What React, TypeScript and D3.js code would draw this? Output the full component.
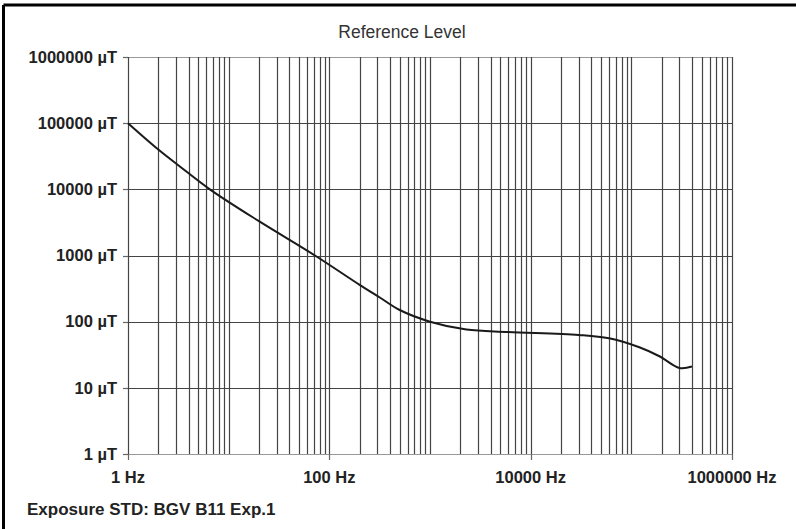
import React, { useEffect, useRef } from 'react';
import * as d3 from 'd3';

// frequency (Hz) and field (µT)
const freqs = [1, 2, 3.3, 6.5, 20, 72, 200, 320, 500, 1000, 2300, 6000, 30000, 60000, 120000, 190000, 300000, 400000];
const fields = [100000, 40000, 22000, 10000, 3300, 1000, 360, 230, 150, 100, 76, 70, 63, 56, 41, 30, 20, 21];

const xTickValues = [1, 100, 10000, 1000000];
const xTickLabels = ['1 Hz', '100 Hz', '10000 Hz', '1000000 Hz'];
const yTickValues = [1, 10, 100, 1000, 10000, 100000, 1000000];
const yTickLabels = ['1 µT', '10 µT', '100 µT', '1000 µT', '10000 µT', '100000 µT', '1000000 µT'];

const title = 'Reference Level';
const footer = 'Exposure STD: BGV B11 Exp.1';

const FONT = '"Liberation Sans", Arial, sans-serif';

const ReferenceChart: React.FC = () => {
  const ref = useRef<SVGSVGElement>(null);

  useEffect(() => {
    drawChart();
  }, []);

  const drawChart = () => {
    const width = 796;
    const height = 529;
    const margin = { top: 57, right: 64, bottom: 75, left: 128 };

    d3.select(ref.current).selectAll('*').remove();

    const svg = d3.select(ref.current)
      .attr('width', width)
      .attr('height', height);

    svg.append('rect').attr('width', width).attr('height', height).attr('fill', '#fff');

    // frame (only top and left edges show in the picture)
    svg.append('line').attr('x1', 3.5).attr('x2', width).attr('y1', 5).attr('y2', 5)
      .attr('stroke', '#000').attr('stroke-width', 3);
    svg.append('line').attr('x1', 3.5).attr('x2', 3.5).attr('y1', 5).attr('y2', height)
      .attr('stroke', '#000').attr('stroke-width', 3);

    const x = d3.scaleLog().domain([1, 1000000]).range([margin.left, width - margin.right]);
    const y = d3.scaleLog().domain([1, 1000000]).range([height - margin.bottom, margin.top]);

    // vertical grid: every 1..9 in each decade
    const xGrid: number[] = [];
    for (let e = 0; e < 6; e++) {
      for (let m = 1; m < 10; m++) xGrid.push(m * Math.pow(10, e));
    }
    xGrid.push(1000000);

    const g = svg.append('g');

    g.selectAll('.hgrid')
      .data(yTickValues)
      .enter().append('line')
      .attr('class', 'hgrid')
      .attr('x1', x(1)).attr('x2', x(1000000))
      .attr('y1', d => Math.round(y(d)) + 0.5).attr('y2', d => Math.round(y(d)) + 0.5)
      .attr('stroke', d => (d === 1000000 || d === 1 ? '#999' : '#444'))
      .attr('stroke-width', 1.2);

    g.selectAll('.vgrid')
      .data(xGrid)
      .enter().append('line')
      .attr('class', 'vgrid')
      .attr('x1', d => Math.round(x(d)) + 0.5).attr('x2', d => Math.round(x(d)) + 0.5)
      .attr('y1', y(1000000)).attr('y2', y(1))
      .attr('stroke', '#444')
      .attr('stroke-width', 1.2);

    // tick marks
    g.selectAll('.xtick')
      .data(xTickValues)
      .enter().append('line')
      .attr('x1', d => Math.round(x(d)) + 0.5).attr('x2', d => Math.round(x(d)) + 0.5)
      .attr('y1', y(1)).attr('y2', y(1) + 6)
      .attr('stroke', '#666').attr('stroke-width', 1.2);

    g.selectAll('.ytick')
      .data(yTickValues)
      .enter().append('line')
      .attr('x1', x(1) - 5).attr('x2', x(1))
      .attr('y1', d => Math.round(y(d)) + 0.5).attr('y2', d => Math.round(y(d)) + 0.5)
      .attr('stroke', '#666').attr('stroke-width', 1.2);

    // tick labels
    g.selectAll('.xlabel')
      .data(xTickValues)
      .enter().append('text')
      .attr('x', d => x(d))
      .attr('y', 483)
      .attr('text-anchor', 'middle')
      .style('font-family', FONT)
      .style('font-weight', 'bold')
      .style('font-size', '16.5px')
      .attr('fill', '#222')
      .text((d, i) => xTickLabels[i]);

    g.selectAll('.ylabel')
      .data(yTickValues)
      .enter().append('text')
      .attr('x', 117)
      .attr('y', d => y(d))
      .attr('dy', '0.35em')
      .attr('text-anchor', 'end')
      .style('font-family', FONT)
      .style('font-weight', 'bold')
      .style('font-size', '16.5px')
      .attr('fill', '#222')
      .text((d, i) => yTickLabels[i]);

    // curve
    const line = d3.line<number>()
      .x((d, i) => x(freqs[i]))
      .y(d => y(d))
      .curve(d3.curveCatmullRom.alpha(0.5));

    svg.append('path')
      .attr('d', line(fields) as string)
      .attr('fill', 'none')
      .attr('stroke', '#1a1a1a')
      .attr('stroke-width', 2);

    svg.append('text')
      .attr('x', 402)
      .attr('y', 38)
      .attr('text-anchor', 'middle')
      .style('font-family', FONT)
      .style('font-size', '17.5px')
      .attr('fill', '#333')
      .text(title);

    svg.append('text')
      .attr('x', 27)
      .attr('y', 515)
      .style('font-family', FONT)
      .style('font-weight', 'bold')
      .style('font-size', '17px')
      .attr('fill', '#222')
      .text(footer);
  };

  return (
    <div style={{ position: 'absolute', left: 0, top: 0 }}>
      <svg ref={ref} style={{ display: 'block' }}></svg>
    </div>
  );
};

export default function App() {
  return <ReferenceChart />;
}
